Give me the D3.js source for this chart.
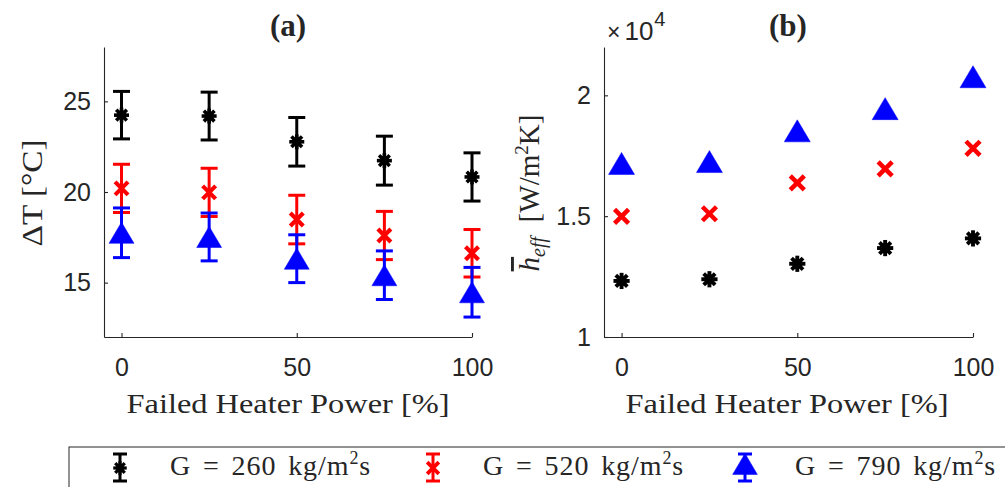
<!DOCTYPE html>
<html><head><meta charset="utf-8">
<script src="https://cdn.jsdelivr.net/npm/d3@7"></script>
<style>
body{margin:0;background:#fff;}
svg{display:block;}
text{fill:#262626;}
</style></head>
<body>
<svg id="chart" width="1005" height="487"></svg>
<script>
// ---------- data ----------
const powerLevels = [0, 25, 50, 75, 100];
const dT260 = [24.24, 24.19, 22.77, 21.73, 20.83];
const dT260Err = [1.31, 1.32, 1.34, 1.35, 1.33];
const dT520 = [20.2, 19.98, 18.48, 17.6, 16.62];
const dT520Err = [1.33, 1.33, 1.34, 1.33, 1.31];
const dT790 = [17.75, 17.52, 16.32, 15.41, 14.47];
const dT790Err = [1.37, 1.32, 1.32, 1.34, 1.37];
const h260 = [1.232, 1.239, 1.303, 1.368, 1.408];
const h520 = [1.499, 1.51, 1.638, 1.696, 1.781];
const h790 = [1.718, 1.726, 1.853, 1.945, 2.077];
const massFluxLabels = ["260", "520", "790"];
const xTicks = [0, 50, 100];
const dTTicks = [15, 20, 25];
const hTicks = [1, 1.5, 2];

const colors = ["#000000", "#ff0000", "#0000ff"];
const markers = ["asterisk", "cross", "triangle"];
const seriesA = [
  {v: dT260, e: dT260Err}, {v: dT520, e: dT520Err}, {v: dT790, e: dT790Err}
];
const seriesB = [h260, h520, h790];

const svg = d3.select("#chart");
const axisColor = "#262626";
const serif = "'Liberation Serif','Times New Roman',serif";
const sans = "'Liberation Sans',Arial,Helvetica,sans-serif";

function drawMarker(g, type, cx, cy, color, s) {
  if (type === "asterisk") {
    const r = 7.5 * s;
    [0, 45, 90, 135].forEach(a => {
      const rad = a * Math.PI / 180;
      g.append("line")
        .attr("x1", cx - r * Math.cos(rad)).attr("y1", cy - r * Math.sin(rad))
        .attr("x2", cx + r * Math.cos(rad)).attr("y2", cy + r * Math.sin(rad))
        .attr("stroke", color).attr("stroke-width", 3.6 * s);
    });
    g.append("circle").attr("cx", cx).attr("cy", cy).attr("r", 4.8 * s).attr("fill", color);
  } else if (type === "cross") {
    const r = 6.5 * s;
    g.append("path")
      .attr("d", `M${cx - r},${cy - r}L${cx + r},${cy + r}M${cx - r},${cy + r}L${cx + r},${cy - r}`)
      .attr("stroke", color).attr("stroke-width", 4.2 * s).attr("fill", "none");
  } else {
    const w = 26 * s, h = 22 * s;
    g.append("path")
      .attr("d", `M${cx},${cy - h / 2}L${cx + w / 2},${cy + h / 2}L${cx - w / 2},${cy + h / 2}Z`)
      .attr("fill", color).attr("stroke", color).attr("stroke-width", 0.5);
  }
}

function drawAxes(x, y, yTicks, yFmt) {
  const g = svg.append("g");
  const xa = g.append("g").attr("transform", `translate(0,${y.range()[0]})`)
    .call(d3.axisBottom(x).tickValues(xTicks).tickSizeInner(-4).tickSizeOuter(0).tickPadding(21));
  const ya = g.append("g").attr("transform", `translate(${x.range()[0]},0)`)
    .call(d3.axisLeft(y).tickValues(yTicks).tickFormat(yFmt).tickSizeInner(-4).tickSizeOuter(0).tickPadding(13));
  [xa, ya].forEach(a => {
    a.select(".domain").attr("stroke", axisColor).attr("stroke-width", 1.1);
    a.selectAll(".tick line").attr("stroke", axisColor).attr("stroke-width", 1.1);
    a.selectAll(".tick text").attr("font-family", sans).attr("font-size", 25).attr("fill", axisColor);
  });
}

// ---------- panel (a) ----------
const xA = d3.scaleLinear().domain([-5, 100]).range([104, 472]);
const yA = d3.scaleLinear().domain([12, 28]).range([337, 47]);
drawAxes(xA, yA, dTTicks, d3.format("d"));

seriesA.forEach((s, i) => {
  const g = svg.append("g");
  powerLevels.forEach((p, j) => {
    const cx = xA(p), y1 = yA(s.v[j] + s.e[j]), y2 = yA(s.v[j] - s.e[j]);
    g.append("line").attr("x1", cx).attr("x2", cx).attr("y1", y1).attr("y2", y2)
      .attr("stroke", colors[i]).attr("stroke-width", 3);
    [y1, y2].forEach(yy => g.append("line").attr("x1", cx - 8.5).attr("x2", cx + 8.5)
      .attr("y1", yy).attr("y2", yy).attr("stroke", colors[i]).attr("stroke-width", 3));
    drawMarker(g, markers[i], cx, yA(s.v[j]), colors[i], i === 2 ? 0.96 : 1.0);
  });
});

svg.append("text").attr("x", 288).attr("y", 36).attr("text-anchor", "middle")
  .attr("font-family", serif).attr("font-weight", "bold").attr("font-size", 31).text("(a)");
svg.append("text").attr("x", 288).attr("y", 413).attr("text-anchor", "middle")
  .attr("font-family", serif).attr("font-size", 28)
  .attr("textLength", 323).attr("lengthAdjust", "spacingAndGlyphs")
  .text("Failed Heater Power [%]");
svg.append("text").attr("transform", "translate(42,193) rotate(-90)").attr("text-anchor", "middle")
  .attr("font-family", serif).attr("font-size", 29)
  .attr("textLength", 107).attr("lengthAdjust", "spacingAndGlyphs")
  .text("ΔT [°C]");

// ---------- panel (b) ----------
const xB = d3.scaleLinear().domain([-5, 100]).range([604, 973]);
const yB = d3.scaleLinear().domain([1, 2.2]).range([337, 47]);
drawAxes(xB, yB, hTicks, d => d3.format("~g")(d));

seriesB.forEach((vals, i) => {
  const g = svg.append("g");
  powerLevels.forEach((p, j) => {
    drawMarker(g, markers[i], xB(p), yB(vals[j]), colors[i], i === 2 ? 1.0 : 1.08);
  });
});

svg.append("text").attr("x", 788).attr("y", 36).attr("text-anchor", "middle")
  .attr("font-family", serif).attr("font-weight", "bold").attr("font-size", 31).text("(b)");
svg.append("text").attr("x", 787).attr("y", 413).attr("text-anchor", "middle")
  .attr("font-family", serif).attr("font-size", 28)
  .attr("textLength", 323).attr("lengthAdjust", "spacingAndGlyphs")
  .text("Failed Heater Power [%]");
const exp = svg.append("text").attr("x", 607).attr("y", 40)
  .attr("font-family", sans).attr("font-size", 26).attr("fill", axisColor);
exp.append("tspan").attr("font-size", 23).text("×");
exp.append("tspan").attr("dx", 4).text("10");
exp.append("tspan").attr("font-size", 20).attr("dy", -14).attr("dx", 1).text("4");

const yl = svg.append("text").attr("transform", "translate(539,193) rotate(-90)")
  .attr("text-anchor", "middle").attr("font-family", serif).attr("font-size", 29);
yl.append("tspan").attr("font-style", "italic").attr("text-decoration", "overline").text("h");
yl.append("tspan").attr("font-style", "italic").attr("font-size", 20).attr("dy", 6).text("eff");
yl.append("tspan").attr("dy", -6).text("\u2002[W/m");
yl.append("tspan").attr("font-size", 19).attr("dy", -11).text("2");
yl.append("tspan").attr("dy", 11).text("K]");

// ---------- legend ----------
const leg = svg.append("g");
leg.append("rect").attr("x", 69).attr("y", 447).attr("width", 960).attr("height", 60)
  .attr("fill", "#fff").attr("stroke", axisColor).attr("stroke-width", 1);
const legMarkerX = [120, 433, 745];
const legTextX = [170, 483, 795];
massFluxLabels.forEach((lab, i) => {
  const g = leg.append("g");
  const cx = legMarkerX[i];
  g.append("line").attr("x1", cx).attr("x2", cx).attr("y1", 454).attr("y2", 481)
    .attr("stroke", colors[i]).attr("stroke-width", 3);
  [454, 481].forEach(yy => g.append("line").attr("x1", cx - 7).attr("x2", cx + 7)
    .attr("y1", yy).attr("y2", yy).attr("stroke", colors[i]).attr("stroke-width", 3));
  if (i === 2) drawMarker(g, markers[i], cx, 464, colors[i], 0.95);
  else drawMarker(g, markers[i], cx, 468, colors[i], 0.9);
  const t = g.append("text").attr("x", legTextX[i]).attr("y", 475)
    .attr("font-family", serif).attr("font-size", 28).attr("fill", "#000")
    .attr("letter-spacing", 0.9).attr("word-spacing", 4);
  t.append("tspan").text(`G = ${lab} kg/m`);
  t.append("tspan").attr("font-size", 18).attr("dy", -11).text("2");
  t.append("tspan").attr("dy", 11).text("s");
});
</script>
</body></html>
